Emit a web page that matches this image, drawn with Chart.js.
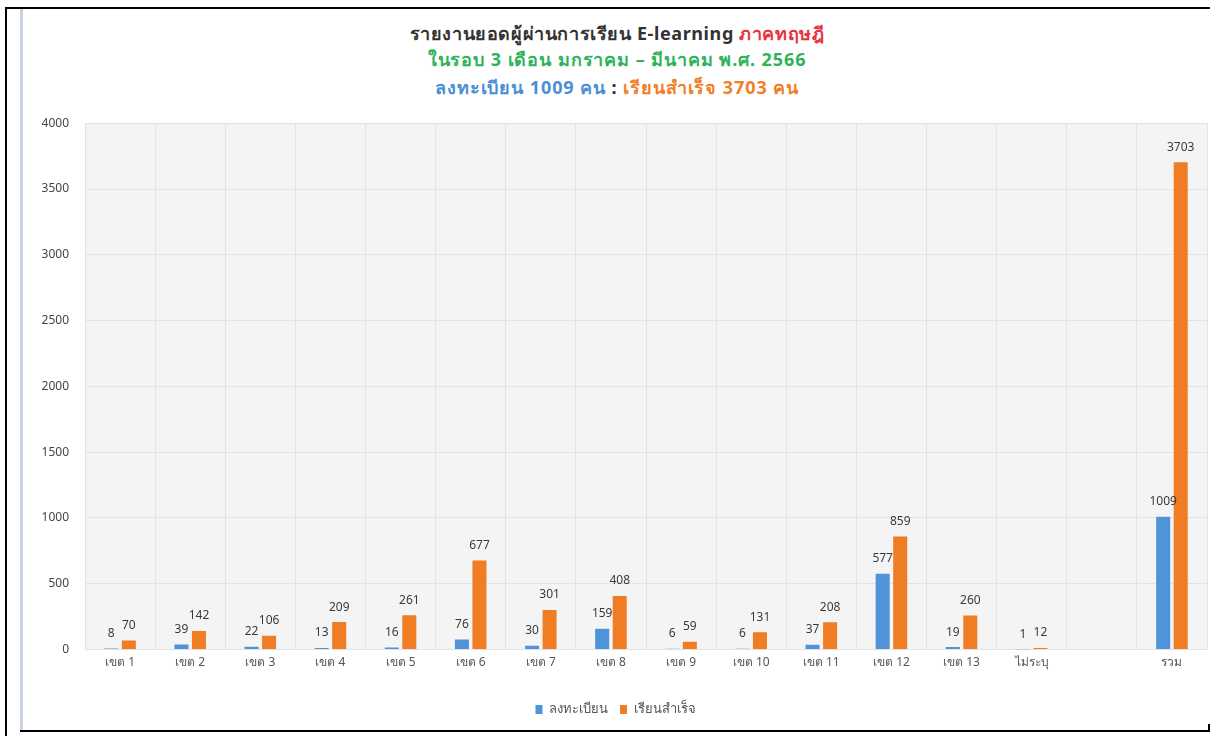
<!DOCTYPE html>
<html>
<head>
<meta charset="utf-8">
<script src="https://cdn.jsdelivr.net/npm/chart.js@4.4.1/dist/chart.umd.min.js"></script>
<style>
  html, body { margin: 0; padding: 0; background: #fff; }
  body { width: 1218px; height: 736px; position: relative; overflow: hidden; font-family: "Noto Sans", sans-serif; }
  .frame-left { position: absolute; left: 5px; top: 7px; width: 2px; height: 729px; background: #000; }
  .frame-top { position: absolute; left: 5px; top: 7px; width: 1205px; height: 2px; background: #000; }
  .frame-bottom { position: absolute; left: 20px; top: 730px; width: 1190px; height: 2px; background: #000; }
  .frame-tick { position: absolute; left: 1208px; top: 724px; width: 2px; height: 8px; background: #000; }
  .edge { position: absolute; left: 20px; top: 9px; width: 3px; height: 721px; background: #c9d2e3; }
  .title { position: absolute; left: 24px; width: 1186px; text-align: center; font-weight: bold; white-space: nowrap; }
  #t1 { top: 19px; font-size: 18px; color: #333; letter-spacing: 0.6px; }
  #t2 { top: 45px; font-size: 18px; color: #2eb35a; letter-spacing: 0.9px; }
  #t3 { top: 73px; font-size: 18px; color: #4a8fd6; letter-spacing: 0.9px; }
  .red { color: #e8323c; }
  .orange { color: #f07f27; }
  .dark { color: #333; }
  #wrap { position: absolute; left: 24px; top: 100px; width: 1186px; height: 626px; }
</style>
</head>
<body>
<div class="edge"></div>
<div class="frame-left"></div>
<div class="frame-top"></div>

<div class="title" id="t1">รายงานยอดผู้ผ่านการเรียน E-learning <span class="red">ภาคทฤษฎี</span></div>
<div class="title" id="t2">ในรอบ 3 เดือน มกราคม – มีนาคม พ.ศ. 2566</div>
<div class="title" id="t3">ลงทะเบียน 1009 คน <span class="dark">:</span> <span class="orange">เรียนสำเร็จ 3703 คน</span></div>

<div id="wrap"><canvas id="chartElearning"></canvas></div>

<div class="frame-bottom"></div>
<div class="frame-tick"></div>

<script>
var zoneLabels = ['เขต 1', 'เขต 2', 'เขต 3', 'เขต 4', 'เขต 5', 'เขต 6', 'เขต 7', 'เขต 8', 'เขต 9', 'เขต 10', 'เขต 11', 'เขต 12', 'เขต 13', 'ไม่ระบุ', '', 'รวม'];
var registered = [8, 39, 22, 13, 16, 76, 30, 159, 6, 6, 37, 577, 19, 1, null, 1009];
var completed = [70, 142, 106, 209, 261, 677, 301, 408, 59, 131, 208, 859, 260, 12, null, 3703];
var yTicks = [0, 500, 1000, 1500, 2000, 2500, 3000, 3500, 4000];

var textFont = '"Noto Sans", sans-serif';

// grey plot background
var plotBackground = {
    id: 'plotBackground',
    beforeDraw: function (chart) {
        var a = chart.chartArea;
        var ctx = chart.ctx;
        ctx.save();
        ctx.fillStyle = '#f4f4f4';
        ctx.fillRect(a.left, a.top, a.right - a.left, a.bottom - a.top);
        ctx.restore();
    }
};

// value labels above each bar
var valueLabels = {
    id: 'valueLabels',
    afterDatasetsDraw: function (chart) {
        var ctx = chart.ctx;
        ctx.save();
        ctx.font = '12px ' + textFont;
        ctx.fillStyle = '#3a3a3a';
        ctx.textAlign = 'center';
        ctx.textBaseline = 'bottom';
        chart.data.datasets.forEach(function (ds, i) {
            var meta = chart.getDatasetMeta(i);
            meta.data.forEach(function (bar, j) {
                var v = ds.data[j];
                if (v === null || v === undefined) return;
                ctx.fillText(v, bar.x, bar.y - 9);
            });
        });
        ctx.restore();
    }
};

var canvas = document.querySelector('#chartElearning').getContext('2d');

var chart = new Chart(canvas, {
    type: 'bar',
    data: {
        labels: zoneLabels,
        datasets: [{
            label: 'ลงทะเบียน',
            data: registered,
            backgroundColor: '#4f93d8',
            categoryPercentage: 0.5,
            barPercentage: 0.8
        }, {
            label: 'เรียนสำเร็จ',
            data: completed,
            backgroundColor: '#f07d24',
            categoryPercentage: 0.5,
            barPercentage: 0.8
        }]
    },
    options: {
        responsive: true,
        maintainAspectRatio: false,
        animation: false,
        layout: {
            padding: { top: 17, right: 3, bottom: 0, left: 0 }
        },
        plugins: {
            legend: {
                position: 'bottom',
                labels: {
                    boxWidth: 7,
                    boxHeight: 9,
                    padding: 12,
                    color: '#555',
                    font: { family: textFont, size: 13 }
                }
            },
            tooltip: { enabled: false }
        },
        scales: {
            x: {
                grid: { color: '#e3e3e3', drawTicks: false, offset: true },
                border: { display: false },
                afterFit: function (axis) {
                    axis.height += 15;
                },
                ticks: {
                    color: '#555',
                    padding: 6,
                    maxRotation: 0,
                    autoSkip: false,
                    font: { family: textFont, size: 12 }
                }
            },
            y: {
                min: 0,
                max: 4000,
                afterBuildTicks: function (axis) {
                    axis.ticks = yTicks.map(function (v) { return { value: v }; });
                },
                afterFit: function (axis) {
                    axis.width = 61;
                },
                grid: { color: '#e3e3e3', drawTicks: false },
                border: { display: false },
                ticks: {
                    color: '#444',
                    padding: 16,
                    font: { family: textFont, size: 12 },
                    callback: function (value) { return String(value); }
                }
            }
        }
    },
    plugins: [plotBackground, valueLabels]
});
</script>
</body>
</html>
